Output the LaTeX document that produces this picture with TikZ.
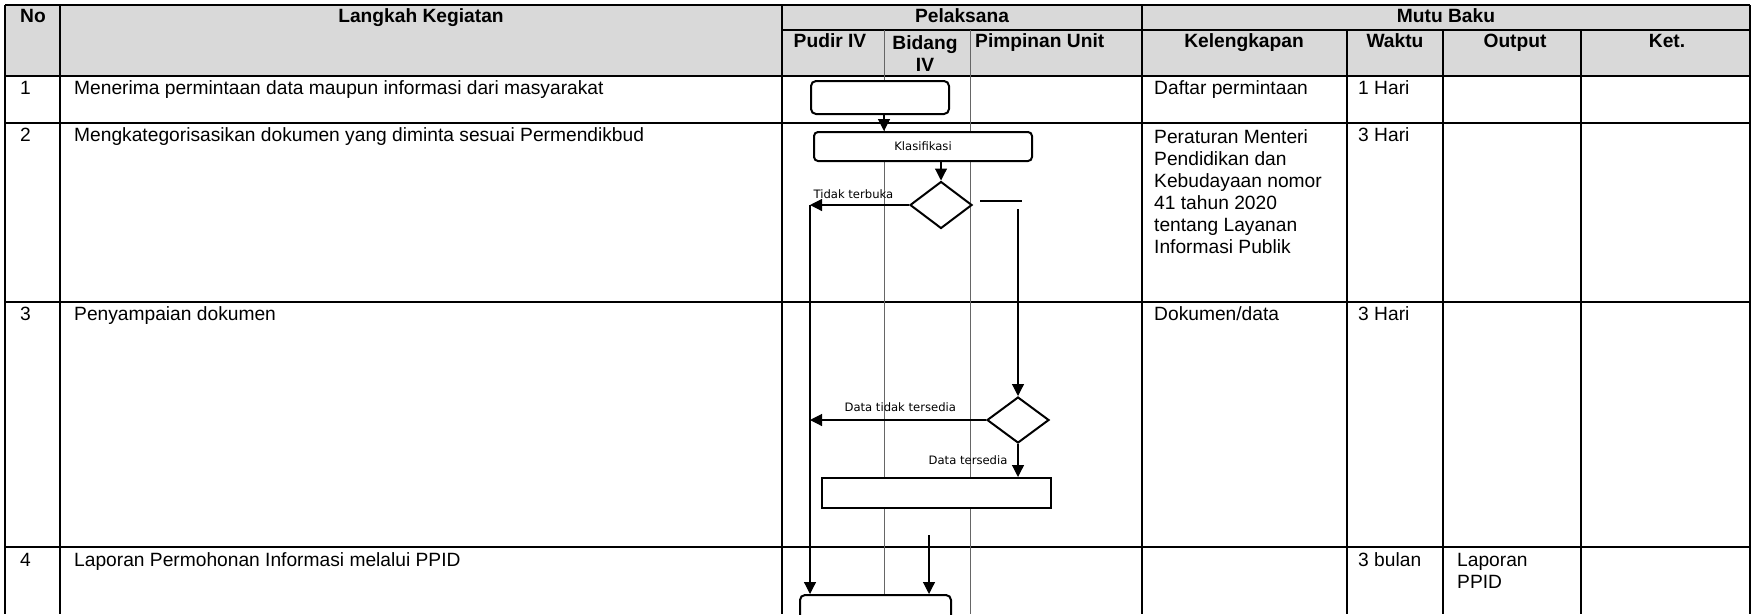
\documentclass[tikz,border=0pt]{standalone}
\usepackage{fontspec}
\setmainfont{Liberation Sans}
\newfontfamily\labelfont{DejaVu Sans}
\usetikzlibrary{shapes.geometric,arrows.meta,calc}
\definecolor{abu}{HTML}{D9D9D9}

\begin{document}
\begin{tikzpicture}[
    x=1pt, y=-1pt,
    every node/.style={font=\fontsize{19.2}{22}\selectfont, inner sep=0pt},
    isi/.style={anchor=west, text height=14pt, text depth=4pt},
    judul/.style={font=\fontsize{19.2}{22}\selectfont\bfseries, text height=14pt, text depth=4pt},
    garis/.style={line width=1.2pt},
    lajur/.style={line width=0.9pt, black!60},
    proses/.style={draw, fill=white, line width=2pt, rounded corners=5pt},
    keputusan/.style={draw, fill=white, diamond, line width=2pt, minimum width=62pt, minimum height=47pt},
    panah/.style={line width=1.2pt, -{Triangle[length=12pt,width=12pt]}},
    catatan/.style={font=\labelfont\fontsize{11.6}{13}\selectfont},
]
\useasboundingbox (0,0) rectangle (1752,614);
\clip (0,0) rectangle (1752,614);

% Kepala tabel
\fill[abu] (5,5) rectangle (1750,76);

% Garis tabel
\draw[garis] (5,5) -- (1750,5) (782,30) -- (1750,30) (5,76) -- (1750,76)
    (5,123) -- (1750,123) (5,302) -- (1750,302) (5,547) -- (1750,547);
\foreach \x in {5,60,782,1142,1750} \draw[garis] (\x,5) -- (\x,614);
\foreach \x in {1347,1443,1581} \draw[garis] (\x,30) -- (\x,614);
\foreach \x in {884,970} \draw[lajur] (\x,30) -- (\x,614);

% Judul kolom
\node[judul] (hNo) at (33,17) {No};
\node[judul] (hLangkah) at (421,17) {Langkah Kegiatan};
\node[judul] (hPelaksana) at (962,17) {Pelaksana};
\node[judul] (hMutu) at (1446,17) {Mutu Baku};
\node[judul] (hPudir) at (830,42) {Pudir IV};
\node[judul, anchor=north, align=center, text height=, text depth=] (hBidang) at (925,35) {Bidang\\IV};
\node[judul, anchor=west] (hPimpinan) at (975,42) {Pimpinan Unit};
\node[judul] (hKeleng) at (1244,42) {Kelengkapan};
\node[judul] (hWaktu) at (1395,42) {Waktu};
\node[judul] (hOutput) at (1515,42) {Output};
\node[judul] (hKet) at (1667,42) {Ket.};

% Isi baris
\node[isi] (n1) at (20,89) {1};
\node[isi] (n2) at (20,136) {2};
\node[isi] (n3) at (20,315) {3};
\node[isi] (n4) at (20,561) {4};
\node[isi] (t1) at (74,89) {Menerima permintaan data maupun informasi dari masyarakat};
\node[isi] (t2) at (74,136) {Mengkategorisasikan dokumen yang diminta sesuai Permendikbud};
\node[isi] (t3) at (74,315) {Penyampaian dokumen};
\node[isi] (t4) at (74,561) {Laporan Permohonan Informasi melalui PPID};

\node[isi] (k1) at (1154,89) {Daftar permintaan};
\node[anchor=north west, align=left] (k2) at (1154,129) {Peraturan Menteri\\Pendidikan dan\\Kebudayaan nomor\\41 tahun 2020\\tentang Layanan\\Informasi Publik};
\node[isi] (k3) at (1154,315) {Dokumen/data};

\node[isi] (w1) at (1358,89) {1 Hari};
\node[isi] (w2) at (1358,136) {3 Hari};
\node[isi] (w3) at (1358,315) {3 Hari};
\node[isi] (w4) at (1358,561) {3 bulan};
\node[anchor=north west, align=left] (o4) at (1457,553) {Laporan\\PPID};

% Bagan alir
\node[proses, minimum width=138pt, minimum height=33pt] (mulai) at (880,97.5) {};
\node[proses, rounded corners=4pt, minimum width=218pt, minimum height=29pt, catatan] (klas) at (923,146.5) {Klasifikasi};
\node[keputusan] (cek1) at (941,205) {};
\node[keputusan, minimum height=46pt] (cek2) at (1018,420) {};
\node[draw, fill=white, line width=2pt, minimum width=229pt, minimum height=30pt] (serah) at (936.5,493) {};
\node[proses, minimum width=151pt, minimum height=45pt] (lapor) at (875.5,617.5) {};
\coordinate (bidang) at (884,0);
\coordinate (kiri) at (810,0);
\coordinate (atas) at (929,535);

% Panah
\draw[panah] (mulai.south -| bidang) -- (klas.north -| bidang);
\draw[panah] (klas.south -| cek1.north) -- (cek1.north);
\draw[panah] (cek1.west) -- (cek1.west -| kiri)
    node[catatan, at end, anchor=south west, xshift=3pt, yshift=6pt] (lblTerbuka) {Tidak terbuka};
\draw[panah] (cek1.west -| kiri) -- (lapor.north -| kiri);
\draw[line width=1.2pt] ($(cek1.east)+(7,-4)$) -- ($(cek2.north |- cek1.east)+(4,-4)$);
\draw[panah] ($(cek2.north |- cek1.east)+(0,4)$) -- (cek2.north);
\draw[panah] (cek2.west) -- (cek2.west -| kiri)
    node[catatan, at end, anchor=south west, xshift=34pt, yshift=8pt] (lblTidakAda) {Data tidak tersedia};
\draw[panah] (cek2.south) -- (cek2.south |- serah.north)
    node[catatan, midway, anchor=east, xshift=-10pt] (lblAda) {Data tersedia};
\draw[panah] (atas) -- (atas |- lapor.north);

\end{tikzpicture}
\end{document}
